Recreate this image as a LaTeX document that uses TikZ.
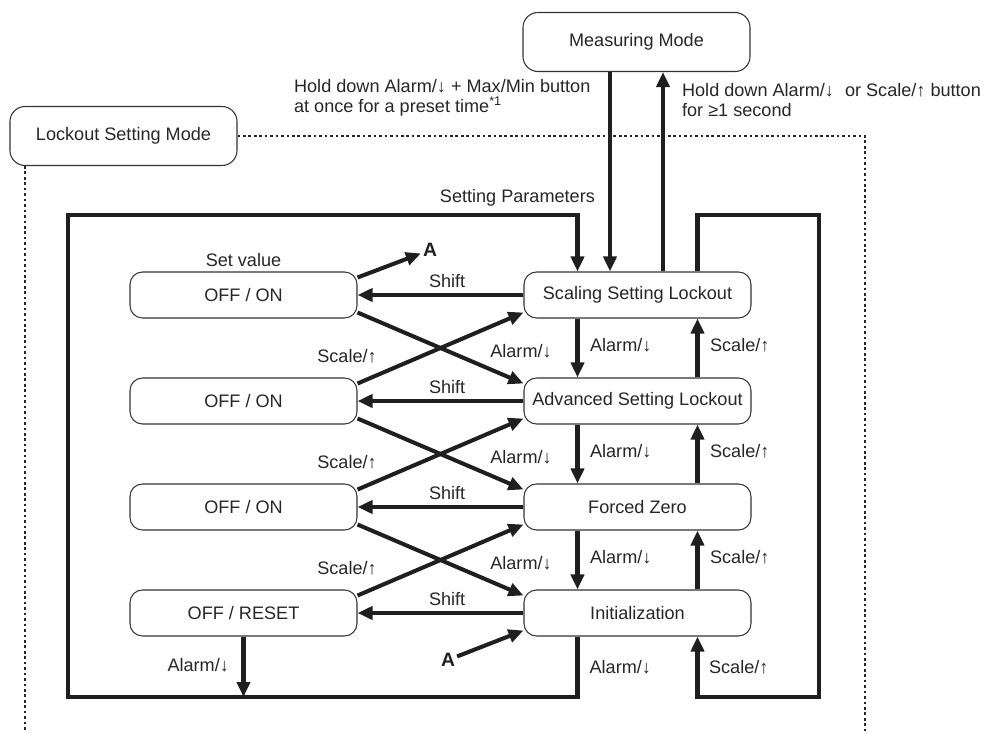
\documentclass[tikz,border=0pt]{standalone}
\usepackage{fontspec}
\setmainfont{Liberation Sans}
\usetikzlibrary{arrows.meta}

\begin{document}
\begin{tikzpicture}[
  mode/.style={draw=black!80,line width=0.6pt,rounded corners=0.3cm,minimum width=4.54cm,minimum height=1.18cm,text=black!85},
  state/.style={draw=black!80,line width=0.6pt,rounded corners=0.25cm,minimum width=4.54cm,minimum height=0.92cm,text=black!85},
  arr/.style={-{Triangle[length=3mm,width=2.6mm]},draw=black!88,line width=2.3pt},
  dots/.style={draw=black!85,line width=1.5pt,dash pattern=on 1.5pt off 1.6pt},
  note/.style={text=black!85,inner sep=1pt},
  akey/.style={font=\fontsize{11}{12}\selectfont\bfseries,text=black!88,inner sep=1pt},
  font=\fontsize{10.3}{11.5}\selectfont,
]
\useasboundingbox (0,0) rectangle (19.94,-14.66);
\node[mode] (meas) at (12.73,-0.84) {Measuring Mode};
\node[mode] (lock) at (2.47,-2.72) {Lockout Setting Mode};
\node[note,anchor=west,align=left] (holdmm) at (5.84,-1.95) {Hold down Alarm/↓ + Max/Min button\\at once for a preset time\textsuperscript{*1}};
\node[note,anchor=west,align=left] (holdone) at (13.6,-2.0) {Hold down Alarm/↓\,\, or Scale/↑ button\\for ≥1 second};
% dotted frame of the lockout mode
\coordinate (dcorner) at (17.3,-2.72);
\coordinate (dend) at (17.3,-14.66);
\coordinate (dleft) at (0.5,-14.66);
\draw[dots] (lock.east) -- (dcorner) -- (dend);
\draw[dots] (dleft |- lock.south) -- (dleft);
% states
\node[state] (r1) at (12.75,-5.9) {Scaling Setting Lockout};
\node[state] (r2) at (12.75,-8.02) {Advanced Setting Lockout};
\node[state] (r3) at (12.75,-10.14) {Forced Zero};
\node[state] (r4) at (12.75,-12.26) {Initialization};
\node[state] (l1) at (4.87,-5.9) {OFF / ON};
\node[state] (l2) at (4.87,-8.02) {OFF / ON};
\node[state] (l3) at (4.87,-10.14) {OFF / ON};
\node[state] (l4) at (4.87,-12.26) {OFF / RESET};
\node[note] (setv) at (4.87,-5.2) {Set value};
% to and from measuring mode
\coordinate (mdown) at ([xshift=-5.3mm]meas.south);
\coordinate (mup) at ([xshift=5.3mm]meas.south);
\draw[arr] (mdown) -- (mdown |- r1.north);
\draw[arr] (mup |- r1.north) -- (mup);
% shift arrows
\foreach \i in {1,...,4}{
  \draw[arr] (r\i) -- (l\i) node[note,pos=0.46,above=2pt] (shift\i) {Shift};
}
% up and down between the lockouts
\foreach \i [count=\j from 2] in {1,2,3}{
  \draw[arr] ([xshift=-12mm]r\i.south) -- ([xshift=-12mm]r\j.north) node[note,pos=0.45,right=5pt] (adn\i) {Alarm/↓};
  \draw[arr] ([xshift=12mm]r\j.north) -- ([xshift=12mm]r\i.south) node[note,pos=0.55,right=5pt] (sup\i) {Scale/↑};
  \draw[arr] ([yshift=-3.5mm]l\i.east) -- ([yshift=3.5mm]r\j.west);
  \draw[arr] ([yshift=3.5mm]l\j.east) -- ([yshift=-3.5mm]r\i.west);
  \node[note] (xsc\i) at ([xshift=2.07cm,yshift=9mm]l\j.center) {Scale/↑};
  \node[note] (xal\i) at ([xshift=-2.33cm,yshift=1cm]r\j.center) {Alarm/↓};
}
% outer loops
\coordinate (ltop) at (1.36,-4.3);
\coordinate (lbot) at (1.36,-13.94);
\coordinate (rtop) at (16.38,-4.3);
\coordinate (rbot) at (16.38,-13.94);
\draw[arr] ([xshift=-12mm]r4.south) |- (lbot) -- (ltop) -| ([xshift=-12mm]r1.north);
\draw[arr] ([xshift=12mm]r1.north) |- (rtop) -- (rbot) -| ([xshift=12mm]r4.south);
\node[note,anchor=east] (setpar) at (11.94,-3.96) {Setting Parameters};
\node[note,anchor=west] (adn4) at (11.75,-13.34) {Alarm/↓};
\node[note,anchor=west] (sup4) at (14.14,-13.34) {Scale/↑};
\draw[arr] (l4.south) -- (l4.south |- lbot);
\node[note,anchor=east] (alres) at (4.62,-13.3) {Alarm/↓};
% jump A
\node[akey] (a1) at (8.6,-5.0) {A};
\draw[arr] ([yshift=3.5mm]l1.east) -- (a1);
\node[akey] (a2) at (8.96,-13.2) {A};
\draw[arr] (a2) -- ([yshift=-3.5mm]r4.west);
\end{tikzpicture}
\end{document}
